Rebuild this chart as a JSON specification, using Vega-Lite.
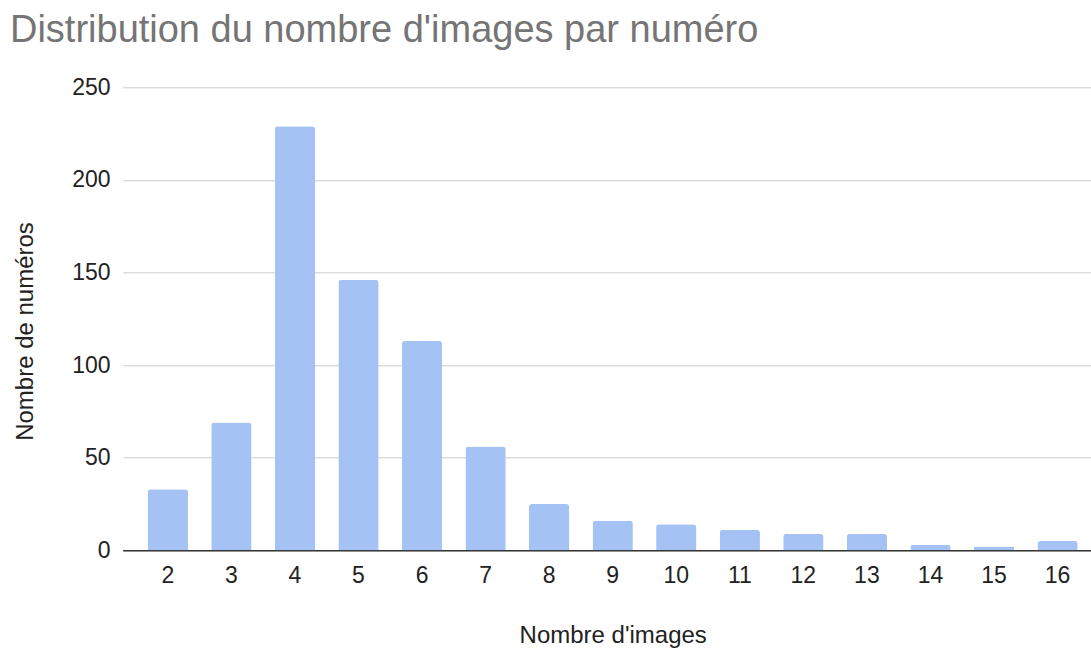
{
  "$schema": "https://vega.github.io/schema/vega-lite/v6.json",
  "width": 980,
  "height": 463,
  "autosize": {"type": "none"},
  "padding": {"left": 122.7, "top": 87.3, "right": 0, "bottom": 98.7},
  "background": "white",
  "title": {
    "text": "Distribution du nombre d'images par numéro",
    "anchor": "start",
    "frame": "group",
    "font": "Liberation Sans",
    "fontSize": 38,
    "fontWeight": "normal",
    "color": "#757575",
    "baseline": "alphabetic",
    "dx": -112.7,
    "dy": 3.5,
    "offset": 0
  },
  "data": {
    "values": [
      {"images": 2, "numeros": 33},
      {"images": 3, "numeros": 69},
      {"images": 4, "numeros": 229},
      {"images": 5, "numeros": 146},
      {"images": 6, "numeros": 113},
      {"images": 7, "numeros": 56},
      {"images": 8, "numeros": 25},
      {"images": 9, "numeros": 16},
      {"images": 10, "numeros": 14},
      {"images": 11, "numeros": 11},
      {"images": 12, "numeros": 9},
      {"images": 13, "numeros": 9},
      {"images": 14, "numeros": 3},
      {"images": 15, "numeros": 2},
      {"images": 16, "numeros": 5}
    ]
  },
  "mark": {"type": "bar", "color": "#a4c2f4", "cornerRadiusTopLeft": 3, "cornerRadiusTopRight": 3},
  "encoding": {
    "x": {
      "field": "images",
      "type": "ordinal",
      "sort": "ascending",
      "scale": {"paddingInner": 0.366, "paddingOuter": 0.393},
      "axis": {
        "title": "Nombre d'images",
        "titleFont": "Liberation Sans",
        "titleFontSize": 24,
        "titleFontWeight": "normal",
        "titleColor": "#222222",
        "titleBaseline": "alphabetic",
        "titleAnchor": "middle",
        "titleY": 92.7,
        "labelFont": "Liberation Sans",
        "labelFontSize": 23,
        "labelColor": "#222222",
        "labelAngle": 0,
        "labelPadding": 14,
        "ticks": false,
        "domain": true,
        "domainColor": "#333333",
        "domainWidth": 1.5,
        "grid": false
      }
    },
    "y": {
      "field": "numeros",
      "type": "quantitative",
      "scale": {"domain": [0, 250], "nice": false},
      "axis": {
        "title": "Nombre de numéros",
        "titleFont": "Liberation Sans",
        "titleFontSize": 24,
        "titleFontWeight": "normal",
        "titleColor": "#222222",
        "titleBaseline": "alphabetic",
        "titleAngle": 270,
        "titleX": -90.4,
        "titleY": 243.7,
        "values": [0, 50, 100, 150, 200, 250],
        "labelFont": "Liberation Sans",
        "labelFontSize": 23,
        "labelColor": "#222222",
        "labelPadding": 12.7,
        "ticks": false,
        "domain": false,
        "grid": true,
        "gridColor": "#cccccc",
        "gridWidth": 1
      }
    }
  },
  "config": {"view": {"stroke": null}}
}
